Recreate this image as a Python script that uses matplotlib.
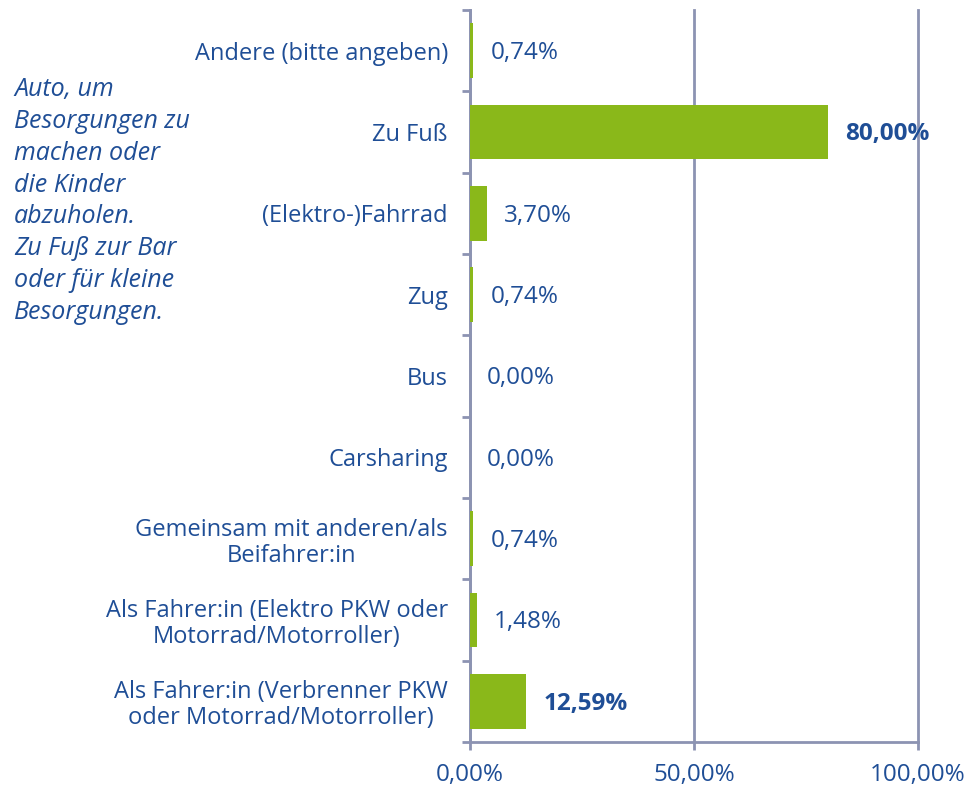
import matplotlib
matplotlib.use("Agg")
import matplotlib.pyplot as plt
import numpy as np

# categories from bottom to top
categories = [
    "Als Fahrer:in (Verbrenner PKW\noder Motorrad/Motorroller)",
    "Als Fahrer:in (Elektro PKW oder\nMotorrad/Motorroller)",
    "Gemeinsam mit anderen/als\nBeifahrer:in",
    "Carsharing",
    "Bus",
    "Zug",
    "(Elektro-)Fahrrad",
    "Zu Fuß",
    "Andere (bitte angeben)",
]
values = [12.59, 1.48, 0.74, 0.00, 0.00, 0.74, 3.70, 80.00, 0.74]
bold_labels = [True, False, False, False, False, False, False, True, False]
xticks = [0, 50, 100]
note = ("Auto, um\nBesorgungen zu\nmachen oder\ndie Kinder\nabzuholen.\n"
        "Zu Fuß zur Bar\noder für kleine\nBesorgungen.")

TEXT = "#1f4e96"
GREEN = "#8ab81a"
AXIS = "#8c93b2"

plt.rcParams["font.family"] = ["Open Sans", "DejaVu Sans"]

fig = plt.figure(figsize=(9.72, 7.89), dpi=100)
ax = fig.add_axes([470 / 972, 1 - 742 / 789, 448 / 972, 732 / 789])

y = np.arange(len(categories))
ax.barh(y, values, height=0.67, color=GREEN, zorder=3)

for yi, v, b in zip(y, values, bold_labels):
    ax.text(v + 3.8, yi - 0.03, ("%.2f%%" % v).replace(".", ","),
            va="center", ha="left", fontsize=17.5, color=TEXT,
            fontweight="bold" if b else "normal", zorder=4)

ax.set_xlim(0, 100)
ax.set_ylim(-0.5, len(categories) - 0.5)
ax.set_xticks(xticks)
ax.set_xticklabels([("%.2f%%" % t).replace(".", ",") for t in xticks])
ax.set_yticks(y)
ax.set_yticklabels(categories, multialignment="center", linespacing=1.12)
ax.set_yticks(np.arange(-0.5, len(categories)), minor=True)

ax.tick_params(axis="y", which="major", length=0, pad=16, labelsize=17,
               labelcolor=TEXT)
ax.tick_params(axis="y", which="minor", length=6, width=2, color=AXIS)
ax.tick_params(axis="x", length=6, width=2, color=AXIS, pad=9,
               labelsize=17.5, labelcolor=TEXT)

ax.grid(axis="x", color=AXIS, linewidth=2, zorder=1)
for line in ax.get_xgridlines():
    line.set_clip_on(False)
for s in ["top", "right"]:
    ax.spines[s].set_visible(False)
for s in ["left", "bottom"]:
    ax.spines[s].set_color(AXIS)
    ax.spines[s].set_linewidth(2)

fig.text(14 / 972, 1 - 77 / 789, note, ha="left", va="top", fontsize=18,
         style="italic", color=TEXT, linespacing=1.36)

fig.savefig("out.png", dpi=100)
